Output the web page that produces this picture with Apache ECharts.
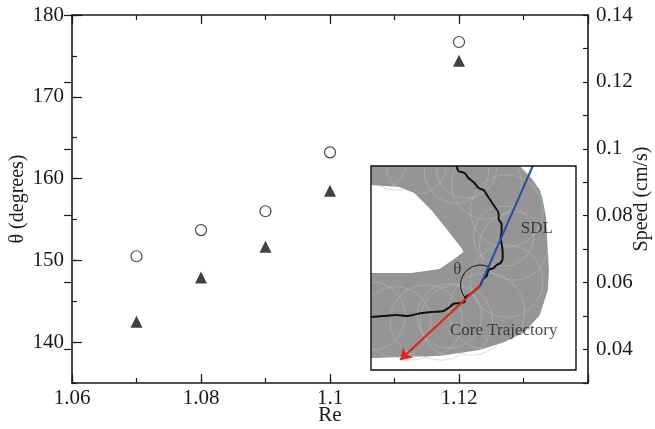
<!DOCTYPE html>
<html><head><meta charset="utf-8">
<script src="https://cdn.jsdelivr.net/npm/echarts@6/dist/echarts.min.js"></script>
<style>html,body{margin:0;padding:0;background:#fff}#c{width:655px;height:429px}</style>
</head><body><div id="c"></div>
<script>
// ---- main data ----
const reValues = [1.07, 1.08, 1.09, 1.1, 1.12];
const thetaDeg = [150.5, 153.7, 156.0, 163.2, 176.7];
const speedCms = [0.0483, 0.0615, 0.0707, 0.0875, 0.1263];
// ---- tick labels ----
const xLabels = [1.06, 1.08, 1.1, 1.12];
const thetaLabels = [140, 150, 160, 170, 180];
const speedLabels = [0.04, 0.06, 0.08, 0.1, 0.12, 0.14];
// ---- inset image (inset pixel space, 0..204) ----
const bandX = [0, 148, 161, 168, 171, 174, 176, 177, 176, 168, 153, 133, 108, 68, 0];
const bandY = [0, 0, 14, 24, 34, 50, 84, 104, 124, 149, 166, 176, 184, 190, 192];
const holeX = [0, 28, 43, 60, 76, 90, 92, 80, 68, 40, 0];
const holeY = [19, 21, 27, 44, 64, 82, 86, 95, 103, 107, 107];
const loopX = [5, 25, 45, 65, 85, 100, 115, 128, 135, 140, 142, 140, 135, 128, 115, 100, 85, 70, 55, 40, 25, 10, 0, 60, 95, 122, 132, 118, 78, 30];
const loopY = [-5, -8, -2, 0, 5, 10, 18, 30, 45, 62, 80, 98, 115, 130, 145, 152, 155, 156, 155, 157, 156, 155, 150, -6, 2, 22, 70, 138, 150, 152];
const loopR = [30, 32, 30, 33, 32, 34, 35, 36, 36, 35, 34, 35, 36, 37, 38, 37, 36, 38, 36, 37, 35, 36, 34, 28, 30, 31, 30, 33, 32, 31];
const coreX = [85, 87, 93, 97, 103, 107, 112, 116, 120, 124, 127, 127, 130, 130, 129, 130, 131, 131, 129, 125, 122, 117, 115, 111, 109, 104, 99, 94, 93, 89, 82, 77, 72, 60, 50, 42, 36, 25, 12, 0];
const coreY = [0, 5, 7, 12, 17, 22, 24, 30, 36, 42, 47, 53, 58, 66, 72, 78, 86, 92, 97, 99, 102, 104, 110, 114, 119, 124, 128, 131, 136, 137, 138, 142, 145, 146, 147, 149, 150, 149, 150, 151];
const corePoint = [109, 119];
const sdlEnd = [161, 0];
const arrowEnd = [29, 194];
const annText = ['SDL', 'θ', 'Core Trajectory'];
const annX = [165, 86, 132];
const annY = [63, 104, 165];

const serif = "'Liberation Serif','Times New Roman',serif";
const ink = '#1a1a1a';
const chart = echarts.init(document.getElementById('c'));

// plot frame geometry
const G = { left: 72, right: 67, top: 15, bottom: 46 };
const plotH = 429 - G.top - G.bottom;          // 368 px for 135..180 and 0.03..0.14
const thetaTickH = plotH * (180 - 140) / (180 - 135);
const speedTickH = plotH * (0.14 - 0.04) / (0.14 - 0.03);

function tickStyle(len, w) {
  return { show: true, inside: true, length: len, lineStyle: { color: ink, width: w || 1.2 } };
}
function yAx(o) {
  return Object.assign({
    type: 'value', gridIndex: 0, nameLocation: 'middle', nameGap: 44, nameMoveOverlap: false,
    nameTextStyle: { fontFamily: serif, fontSize: 20, color: ink },
    axisLine: { show: false }, axisTick: { show: false }, axisLabel: { show: false },
    splitLine: { show: false }
  }, o);
}
function xAx(o) {
  return Object.assign({
    type: 'value', gridIndex: 0, min: 1.06, max: 1.14, nameLocation: 'middle', nameGap: 22, nameMoveOverlap: false,
    nameTextStyle: { fontFamily: serif, fontSize: 21, color: ink },
    axisLine: { show: false }, axisTick: { show: false }, axisLabel: { show: false },
    splitLine: { show: false }
  }, o);
}
const lineOn = { show: true, lineStyle: { color: ink, width: 1.6 } };
const labelStyle = { fontFamily: serif, fontSize: 21, color: ink };

chart.setOption({
  animation: false,
  backgroundColor: '#fff',
  grid: [
    Object.assign({ outerBoundsMode: 'none', containLabel: false }, G),
    { left: G.left, right: G.right, top: G.top, height: thetaTickH, outerBoundsMode: 'none' },
    { left: G.left, right: G.right, top: G.top, height: speedTickH, outerBoundsMode: 'none' },
    { left: 371, top: 166, width: 205, height: 204, outerBoundsMode: 'none', show: true, borderColor: '#111', borderWidth: 1.4, backgroundColor: 'transparent', z: 10 }
  ],
  xAxis: [
    xAx({ position: 'bottom', interval: 0.02, name: 'Re', axisLine: lineOn, axisTick: tickStyle(9),
          axisLabel: Object.assign({ show: true, customValues: xLabels, margin: 5 }, labelStyle) }),
    xAx({ position: 'top', interval: 0.02, axisLine: lineOn, axisTick: tickStyle(9) }),
    xAx({ position: 'bottom', interval: 0.01, axisTick: tickStyle(5) }),
    xAx({ position: 'top', interval: 0.01, axisTick: tickStyle(5) }),
    { type: 'value', gridIndex: 1, show: false },
    { type: 'value', gridIndex: 2, show: false },
    { type: 'value', gridIndex: 3, min: 0, max: 204, show: false }
  ],
  yAxis: [
    yAx({ position: 'left', min: 135, max: 180, name: 'θ (degrees)', axisLine: lineOn,
          axisLabel: Object.assign({ show: true, customValues: thetaLabels, margin: 8 }, labelStyle) }),
    yAx({ position: 'right', min: 0.03, max: 0.14, name: 'Speed (cm/s)', axisLine: lineOn,
          axisLabel: Object.assign({ show: true, customValues: speedLabels, margin: 8 }, labelStyle) }),
    yAx({ position: 'left', min: 135, max: 180, interval: 5, axisTick: tickStyle(5) }),
    yAx({ position: 'right', min: 0.03, max: 0.14, interval: 0.01, axisTick: tickStyle(5) }),
    yAx({ gridIndex: 1, position: 'left', min: 140, max: 180, interval: 10, axisTick: tickStyle(10) }),
    yAx({ gridIndex: 2, position: 'right', min: 0.04, max: 0.14, interval: 0.02, axisTick: tickStyle(8) }),
    { type: 'value', gridIndex: 3, min: 0, max: 204, inverse: true, show: false }
  ],
  series: [
    {
      type: 'scatter', xAxisIndex: 0, yAxisIndex: 0, symbol: 'circle', symbolSize: 11,
      itemStyle: { color: '#fff', borderColor: ink, borderWidth: 1.2 },
      data: reValues.map((x, i) => [x, thetaDeg[i]]), z: 3
    },
    {
      type: 'scatter', xAxisIndex: 0, yAxisIndex: 1, symbol: 'triangle', symbolSize: 12,
      itemStyle: { color: '#111' },
      data: reValues.map((x, i) => [x, speedCms[i]]), z: 3
    },
    // inset: gray band
    {
      type: 'custom', xAxisIndex: 6, yAxisIndex: 6, clip: true, silent: true, z: 2,
      data: [[0, 0]],
      renderItem: (p, api) => ({
        type: 'group', children: [
          { type: 'polygon', shape: { points: bandX.map((x, i) => api.coord([x, bandY[i]])) }, style: { fill: '#959595' } },
          { type: 'polygon', shape: { points: holeX.map((x, i) => api.coord([x, holeY[i]])) }, style: { fill: '#fff' } }
        ]
      })
    },
    // inset: loop texture
    {
      type: 'custom', xAxisIndex: 6, yAxisIndex: 6, clip: true, silent: true, z: 3,
      data: loopX.map((x, i) => [x, loopY[i], loopR[i]]),
      renderItem: (p, api) => {
        const c = api.coord([api.value(0), api.value(1)]);
        const r = api.size([api.value(2), 0])[0];
        const light = p.dataIndex % 2 === 0;
        return {
          type: 'circle', shape: { cx: c[0], cy: c[1], r: r },
          style: { fill: 'none', stroke: light ? 'rgba(255,255,255,0.3)' : 'rgba(150,150,150,0.55)', lineWidth: 0.6 }
        };
      }
    },
    // inset: core trajectory (black)
    {
      type: 'line', xAxisIndex: 6, yAxisIndex: 6, showSymbol: false, smooth: 0.25, z: 5,
      lineStyle: { color: '#111', width: 2 },
      data: coreX.map((x, i) => [x, coreY[i]])
    },
    // inset: SDL (blue)
    {
      type: 'line', xAxisIndex: 6, yAxisIndex: 6, showSymbol: false, z: 6,
      lineStyle: { color: '#2b4fa6', width: 2 },
      data: [corePoint, sdlEnd]
    },
    // inset: red arrow
    {
      type: 'lines', coordinateSystem: 'cartesian2d', xAxisIndex: 6, yAxisIndex: 6, z: 6,
      symbol: ['none', 'arrow'], symbolSize: 11,
      lineStyle: { color: '#e3231f', width: 2.2, opacity: 1, curveness: 0 },
      data: [{ coords: [corePoint, arrowEnd] }]
    },
    // inset: theta arc
    {
      type: 'custom', xAxisIndex: 6, yAxisIndex: 6, clip: true, silent: true, z: 6,
      data: [corePoint],
      renderItem: (p, api) => {
        const c = api.coord([api.value(0), api.value(1)]);
        return {
          type: 'arc', shape: { cx: c[0], cy: c[1], r: 20, startAngle: 138.7 * Math.PI / 180, endAngle: 294 * Math.PI / 180, clockwise: true },
          style: { stroke: '#111', fill: 'none', lineWidth: 1 }
        };
      }
    },
    // inset: annotations
    {
      type: 'scatter', xAxisIndex: 6, yAxisIndex: 6, symbolSize: 0, z: 7, silent: true,
      data: annText.map((t, i) => ({ value: [annX[i], annY[i]], name: t })),
      label: { show: true, position: 'inside', formatter: '{b}', fontFamily: serif, fontSize: 17, color: '#222' }
    }
  ]
});
</script>
</body></html>
